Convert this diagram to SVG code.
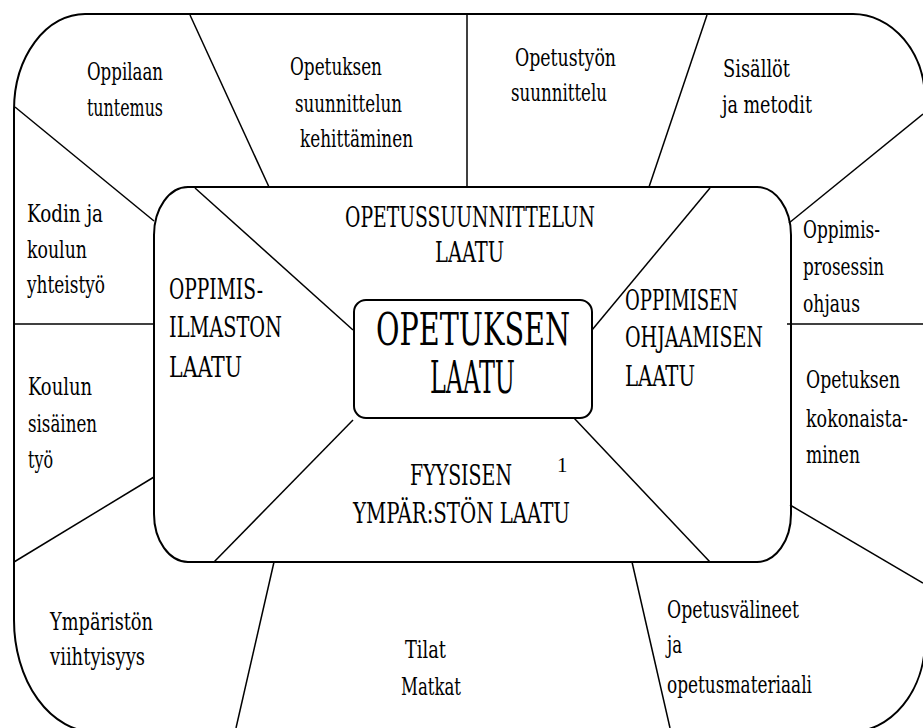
<svg xmlns="http://www.w3.org/2000/svg" width="923" height="728" viewBox="0 0 923 728">
<style>
.frame{fill:none;stroke:#000;stroke-width:2}
.ln{fill:none;stroke:#000;stroke-width:1.5}
text{font-family:"DejaVu Serif","Liberation Serif",serif;font-stretch:condensed;fill:#000}
.lab{font-size:25px}
.cap{font-size:27px}
.big{font-size:44px}
</style>
<rect width="923" height="728" fill="#fff"/>
<g id="frames">
<path class="frame" d="M14,620 L14,110 A71,96 0 0 1 85,14 L853,14 A72,86 0 0 1 925,100 L925,640 A75,92 0 0 1 850,732 L95,732 A81,112 0 0 1 14,620 Z"/>
<rect class="frame" x="154" y="187" width="637" height="375" rx="34" ry="48"/>
</g>
<g id="connectors">
<line class="ln" x1="190" y1="15" x2="269" y2="187"/>
<line class="ln" x1="467" y1="15" x2="467" y2="187"/>
<line class="ln" x1="707" y1="15" x2="649" y2="187"/>
<line class="ln" x1="15" y1="107" x2="154" y2="221"/>
<line class="ln" x1="13" y1="324" x2="154" y2="324"/>
<line class="ln" x1="14" y1="562" x2="154" y2="477"/>
<line class="ln" x1="789" y1="223" x2="923" y2="114"/>
<line class="ln" x1="787" y1="324" x2="923" y2="324"/>
<line class="ln" x1="790" y1="505" x2="923" y2="583"/>
<line class="ln" x1="274" y1="562" x2="236" y2="728"/>
<line class="ln" x1="632" y1="562" x2="670" y2="728"/>
<line class="ln" x1="195" y1="188" x2="353" y2="330"/>
<line class="ln" x1="592" y1="330" x2="710" y2="188"/>
<line class="ln" x1="574" y1="418" x2="710" y2="562"/>
<line class="ln" x1="353" y1="420" x2="214" y2="562"/>
</g>
<g id="center">
<rect class="frame" x="354" y="300" width="238" height="118" rx="12" ry="12"/>
<text class="big" x="376" y="345" textLength="194" lengthAdjust="spacingAndGlyphs">OPETUKSEN</text>
<text class="big" x="430" y="393" textLength="85" lengthAdjust="spacingAndGlyphs">LAATU</text>
</g>
<g id="opetussuunnittelun-laatu">
<text class="cap" x="345" y="227" textLength="250" lengthAdjust="spacingAndGlyphs">OPETUSSUUNNITTELUN</text>
<text class="cap" x="435" y="262" textLength="69" lengthAdjust="spacingAndGlyphs">LAATU</text>
</g>
<g id="oppimisilmaston-laatu">
<text class="cap" x="169" y="299" textLength="94" lengthAdjust="spacingAndGlyphs">OPPIMIS-</text>
<text class="cap" x="169" y="337" textLength="113" lengthAdjust="spacingAndGlyphs">ILMASTON</text>
<text class="cap" x="169" y="377" textLength="73" lengthAdjust="spacingAndGlyphs">LAATU</text>
</g>
<g id="oppimisen-ohjaamisen-laatu">
<text class="cap" x="625" y="310" textLength="113" lengthAdjust="spacingAndGlyphs">OPPIMISEN</text>
<text class="cap" x="625" y="347" textLength="138" lengthAdjust="spacingAndGlyphs">OHJAAMISEN</text>
<text class="cap" x="625" y="386" textLength="70" lengthAdjust="spacingAndGlyphs">LAATU</text>
</g>
<g id="fyysisen-ympariston-laatu">
<text class="cap" x="410" y="485" textLength="102" lengthAdjust="spacingAndGlyphs">FYYSISEN</text>
<text class="cap" x="353" y="523" textLength="217" lengthAdjust="spacingAndGlyphs">YMPÄR:STÖN LAATU</text>
<text x="557" y="472" font-size="21" style="font-family:'Liberation Serif',serif">1</text>
</g>
<g id="oppilaan-tuntemus">
<text class="lab" x="87" y="80" textLength="76" lengthAdjust="spacingAndGlyphs">Oppilaan</text>
<text class="lab" x="87" y="116" textLength="76" lengthAdjust="spacingAndGlyphs">tuntemus</text>
</g>
<g id="opetuksen-suunnittelun-kehittaminen">
<text class="lab" x="290" y="75" textLength="92" lengthAdjust="spacingAndGlyphs">Opetuksen</text>
<text class="lab" x="295" y="112" textLength="107" lengthAdjust="spacingAndGlyphs">suunnittelun</text>
<text class="lab" x="300" y="147" textLength="113" lengthAdjust="spacingAndGlyphs">kehittäminen</text>
</g>
<g id="opetustyon-suunnittelu">
<text class="lab" x="515" y="66" textLength="101" lengthAdjust="spacingAndGlyphs">Opetustyön</text>
<text class="lab" x="511" y="101" textLength="96" lengthAdjust="spacingAndGlyphs">suunnittelu</text>
</g>
<g id="sisallot-ja-metodit">
<text class="lab" x="723" y="77" textLength="67" lengthAdjust="spacingAndGlyphs">Sisällöt</text>
<text class="lab" x="722" y="113" textLength="90" lengthAdjust="spacingAndGlyphs">ja metodit</text>
</g>
<g id="kodin-ja-koulun-yhteistyo">
<text class="lab" x="27" y="222" textLength="76" lengthAdjust="spacingAndGlyphs">Kodin ja</text>
<text class="lab" x="27" y="258" textLength="60" lengthAdjust="spacingAndGlyphs">koulun</text>
<text class="lab" x="27" y="293" textLength="78" lengthAdjust="spacingAndGlyphs">yhteistyö</text>
</g>
<g id="koulun-sisainen-tyo">
<text class="lab" x="28" y="395" textLength="64" lengthAdjust="spacingAndGlyphs">Koulun</text>
<text class="lab" x="28" y="432" textLength="69" lengthAdjust="spacingAndGlyphs">sisäinen</text>
<text class="lab" x="28" y="468" textLength="25" lengthAdjust="spacingAndGlyphs">työ</text>
</g>
<g id="oppimisprosessin-ohjaus">
<text class="lab" x="803" y="238" textLength="77" lengthAdjust="spacingAndGlyphs">Oppimis-</text>
<text class="lab" x="803" y="275" textLength="81" lengthAdjust="spacingAndGlyphs">prosessin</text>
<text class="lab" x="803" y="312" textLength="57" lengthAdjust="spacingAndGlyphs">ohjaus</text>
</g>
<g id="opetuksen-kokonaistaminen">
<text class="lab" x="806" y="388" textLength="94" lengthAdjust="spacingAndGlyphs">Opetuksen</text>
<text class="lab" x="806" y="427" textLength="102" lengthAdjust="spacingAndGlyphs">kokonaista-</text>
<text class="lab" x="806" y="463" textLength="54" lengthAdjust="spacingAndGlyphs">minen</text>
</g>
<g id="ympariston-viihtyisyys">
<text class="lab" x="50" y="630" textLength="103" lengthAdjust="spacingAndGlyphs">Ympäristön</text>
<text class="lab" x="50" y="665" textLength="95" lengthAdjust="spacingAndGlyphs">viihtyisyys</text>
</g>
<g id="tilat-matkat">
<text class="lab" x="405" y="658" textLength="41" lengthAdjust="spacingAndGlyphs">Tilat</text>
<text class="lab" x="401" y="695" textLength="60" lengthAdjust="spacingAndGlyphs">Matkat</text>
</g>
<g id="opetusvalineet">
<text class="lab" x="667" y="618" textLength="132" lengthAdjust="spacingAndGlyphs">Opetusvälineet</text>
<text class="lab" x="667" y="653" textLength="15" lengthAdjust="spacingAndGlyphs">ja</text>
<text class="lab" x="667" y="693" textLength="145" lengthAdjust="spacingAndGlyphs">opetusmateriaali</text>
</g>
</svg>
